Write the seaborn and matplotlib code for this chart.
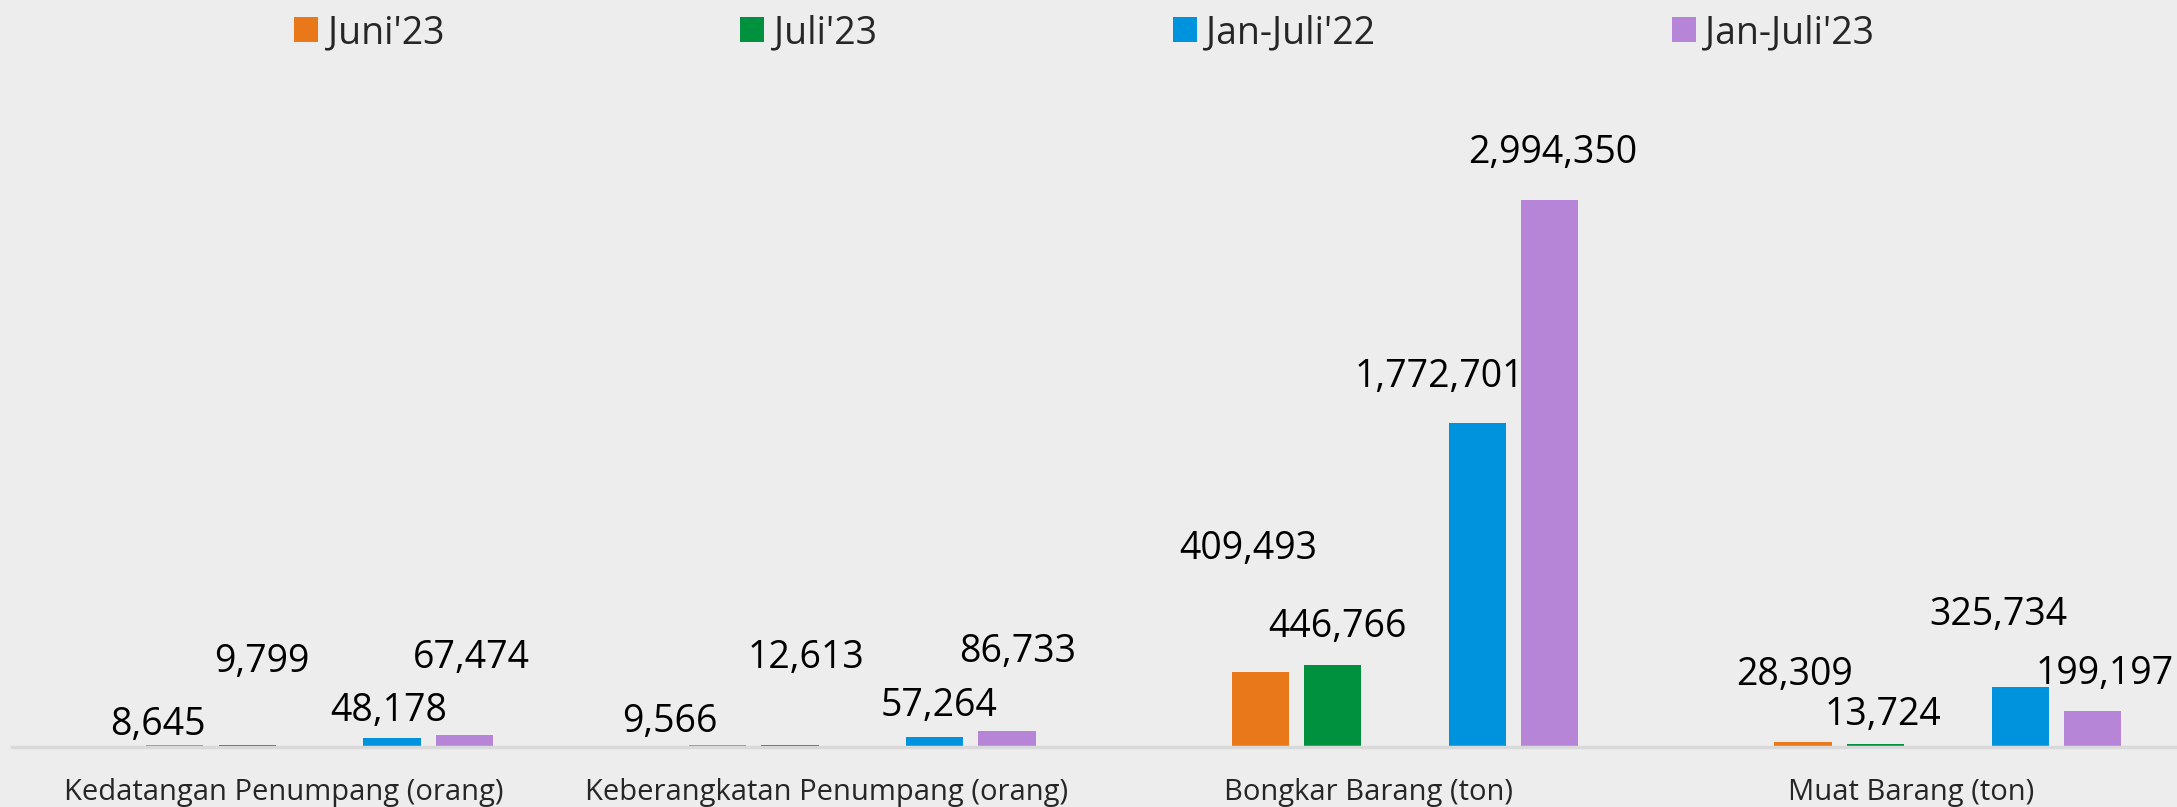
import numpy as np
import pandas as pd
import matplotlib.pyplot as plt
import seaborn as sns

sns.set_style("white")
plt.rcParams["font.family"] = ["Open Sans", "DejaVu Sans"]

# data
kategori = ["Kedatangan Penumpang (orang)", "Keberangkatan Penumpang (orang)",
            "Bongkar Barang (ton)", "Muat Barang (ton)"]
juni23 = [8645, 9566, 409493, 28309]
juli23 = [9799, 12613, 446766, 13724]
janjuli22 = [48178, 57264, 1772701, 325734]
janjuli23 = [67474, 86733, 2994350, 199197]

seri = ["Juni'23", "Juli'23", "Jan-Juli'22", "Jan-Juli'23"]
warna = ["#E87819", "#00913F", "#0093DD", "#B685D8"]
bg = "#EDEDED"

# empty slots like in the original excel chart
urutan = ["kosong1", "Juni'23", "Juli'23", "kosong2", "Jan-Juli'22", "Jan-Juli'23"]
palet = dict(zip(seri, warna))
palet["kosong1"] = bg
palet["kosong2"] = bg

rows = []
for nama, nilai in zip(seri, [juni23, juli23, janjuli22, janjuli23]):
    for k, v in zip(kategori, nilai):
        rows.append({"kategori": k, "seri": nama, "nilai": v})
for k in kategori:
    rows.append({"kategori": k, "seri": "kosong1", "nilai": 0})
    rows.append({"kategori": k, "seri": "kosong2", "nilai": 0})
df = pd.DataFrame(rows)

# label offsets (pixels) per series, per category -- hand placed like the original
geser_x = {"Juni'23": [-17, -48, -12, -9],
           "Juli'23": [15, 16, 5, 8],
           "Jan-Juli'22": [-3, 4, -38, -22],
           "Jan-Juli'23": [7, 11, 3, 12]}
geser_y = {"Juni'23": [10, 13, 113, 57],
           "Juli'23": [73, 77, 28, 19],
           "Jan-Juli'22": [17, 21, 36, 62],
           "Jan-Juli'23": [67, 69, 37, 27]}

fig = plt.figure(figsize=(21.77, 8.07), dpi=100, facecolor=bg)
ax = fig.add_axes([12 / 2177, 1 - 747 / 807, 2171 / 2177, 658 / 807])
ax.set_facecolor(bg)

sns.barplot(data=df, x="kategori", y="nilai", hue="seri", order=kategori,
            hue_order=urutan, palette=palet, saturation=1, width=0.8, gap=0.21,
            linewidth=0, errorbar=None, ax=ax)

ax.set_xlim(-0.5, 3.5)
ax.set_ylim(0, 3600000)
ax.set_xlabel("")
ax.set_ylabel("")
ax.set_yticks([])
ax.tick_params(axis="x", length=0, pad=22, labelsize=21)
for s in ["top", "left", "right"]:
    ax.spines[s].set_visible(False)
ax.spines["bottom"].set_color("#D9D9D9")
ax.spines["bottom"].set_linewidth(2.5)

# value labels
for i, nama in enumerate(urutan):
    if nama not in seri:
        continue
    for j, bar in enumerate(ax.containers[i]):
        x = bar.get_x() + bar.get_width() / 2
        y = bar.get_height()
        ax.annotate(f"{int(y):,}", (x, y),
                    xytext=(geser_x[nama][j], geser_y[nama][j]),
                    textcoords="offset pixels", ha="center", va="baseline",
                    fontsize=27, color="black", annotation_clip=False)

handles, labels = ax.get_legend_handles_labels()
hl = [(h, l) for h, l in zip(handles, labels) if l in seri]
ax.legend_.remove()
fig.legend([h for h, l in hl], [l for h, l in hl], loc="center",
           bbox_to_anchor=(0.498, 1 - 33 / 807), ncol=4, frameon=False,
           fontsize=27, handlelength=0.64, handleheight=0.64,
           handletextpad=0.25, columnspacing=7.9)

fig.savefig("out.png", dpi=100, facecolor=bg)
